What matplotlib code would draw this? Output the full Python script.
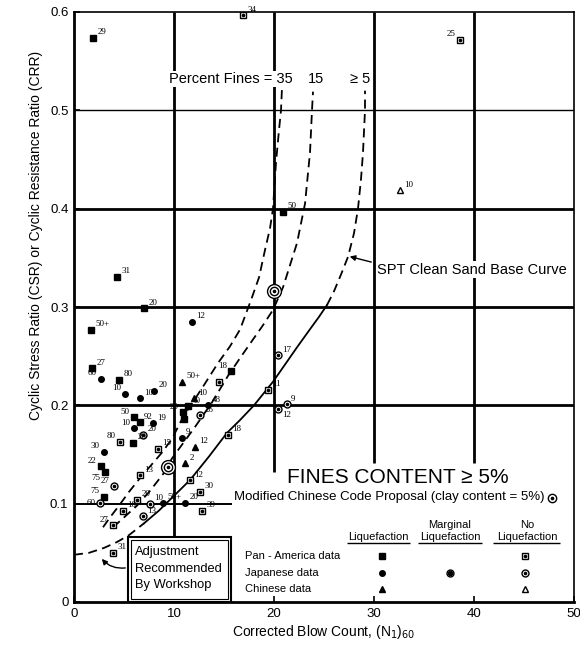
import matplotlib
matplotlib.use("Agg")
import matplotlib.pyplot as plt
from matplotlib.patches import Rectangle

plt.rcParams["font.family"] = ["Liberation Sans", "DejaVu Sans"]

# Curves: percent fines = 35, 15 and clean sand base curve
c35_x = [2.9, 3.6, 4.5, 5.5, 6.6, 7.7, 8.8, 9.8, 10.9, 12.0, 12.9, 14.4, 15.6, 16.6,
         17.7, 18.5, 19.1, 19.6, 19.9, 20.2, 20.5, 20.7, 20.8]
c35_y = [0.076, 0.086, 0.098, 0.112, 0.126, 0.139, 0.152, 0.166, 0.188, 0.205, 0.219,
         0.243, 0.260, 0.277, 0.307, 0.330, 0.358, 0.380, 0.400, 0.447, 0.480, 0.500, 0.523]
c15_x = [3.9, 5.0, 6.3, 7.6, 8.9, 9.8, 10.3, 12.1, 13.8, 15.4, 16.6, 17.9, 18.8, 19.9,
         20.9, 22.3, 23.1, 23.6, 23.8, 23.9]
c15_y = [0.076, 0.086, 0.098, 0.113, 0.130, 0.146, 0.153, 0.178, 0.203, 0.230, 0.248,
         0.267, 0.280, 0.297, 0.320, 0.365, 0.405, 0.457, 0.500, 0.519]
adj_x = [0.0, 1.5, 3.0, 4.3, 5.5, 7.0]
adj_y = [0.048, 0.050, 0.055, 0.061, 0.068, 0.080]
base_x = [7.0, 8.5, 9.9, 11.6, 13.5, 15.3, 16.6, 18.0, 19.9, 21.0, 22.3, 23.5, 24.5, 25.3]
base_y = [0.080, 0.093, 0.107, 0.124, 0.148, 0.172, 0.185, 0.200, 0.224, 0.240, 0.259,
          0.276, 0.290, 0.302]
top_x = [25.3, 26.0, 26.7, 27.4, 28.0, 28.4, 28.7, 28.9, 29.1, 29.1]
top_y = [0.302, 0.316, 0.333, 0.351, 0.375, 0.400, 0.430, 0.457, 0.500, 0.520]

# Case histories: (N1)60, CSR, site label, label side
# sides: r = right/above, R = right/below, l = left/above, L = left/below, c = left/centre
pa_liq_x = [1.9, 20.9, 4.3, 7.0, 1.7, 1.8, 4.5, 15.7, 11.4, 10.9, 11.0, 6.0, 6.6, 5.9, 2.7, 3.1, 3.0]
pa_liq_y = [0.574, 0.397, 0.331, 0.299, 0.277, 0.238, 0.226, 0.235, 0.199, 0.193, 0.186,
            0.188, 0.183, 0.162, 0.138, 0.132, 0.107]
pa_liq_lab = ["29", "50", "31", "20", "50+", "27", "80", "18", "40", "20", "", "50", "92",
              "20", "22", "75", "75"]
pa_liq_side = "rrrrrrrlrlrlrrlLl"

pa_no_x = [16.9, 38.6, 14.5, 19.4, 15.4, 11.6, 12.6, 12.8, 4.6, 8.4, 6.6, 6.3, 4.9, 3.9, 3.9]
pa_no_y = [0.597, 0.572, 0.224, 0.216, 0.170, 0.124, 0.112, 0.093, 0.163, 0.156, 0.129,
           0.104, 0.093, 0.078, 0.050]
pa_no_lab = ["34", "25", "", "11", "18", "12", "30", "39", "80", "15", "13", "20", "10",
             "27", "31"]
pa_no_side = "rlrrrrrrlrrrrlr"

jp_liq_x = [11.8, 2.7, 5.1, 6.6, 8.0, 13.4, 10.8, 6.0, 7.9, 3.0, 8.9, 11.1]
jp_liq_y = [0.285, 0.227, 0.212, 0.207, 0.215, 0.200, 0.167, 0.177, 0.182, 0.153, 0.101, 0.101]
jp_liq_lab = ["12", "60", "10", "10", "20", "48", "9", "10", "19", "30", "50+", "20"]
jp_liq_side = "rllrrrrlrlrr"

jp_no_x = [20.4, 21.3, 20.4, 12.6, 6.9, 4.0, 2.6, 6.9, 7.6]
jp_no_y = [0.251, 0.201, 0.196, 0.190, 0.170, 0.118, 0.101, 0.087, 0.100]
jp_no_lab = ["17", "9", "12", "26", "20", "27", "60", "13", "10"]
jp_no_side = "rrRrrlcrr"

cn_liq_x = [10.8, 12.0, 12.1, 11.1]
cn_liq_y = [0.224, 0.207, 0.158, 0.141]
cn_liq_lab = ["50+", "10", "12", "2"]

cn_no_x = [32.6]
cn_no_y = [0.419]
cn_no_lab = ["10"]

mcc_x = [20.0, 9.4]
mcc_y = [0.316, 0.137]

fig = plt.figure(figsize=(5.8, 6.5), dpi=100)
ax = fig.add_axes([74 / 580, 48 / 650, 500 / 580, 590 / 650])
ax.set_xlim(0, 50)
ax.set_ylim(0, 0.6)
ax.set_xticks([0, 10, 20, 30, 40, 50])
ax.set_yticks([0, 0.1, 0.2, 0.3, 0.4, 0.5, 0.6])
ax.set_yticklabels(["0", "0.1", "0.2", "0.3", "0.4", "0.5", "0.6"])
ax.tick_params(direction="in", length=4, width=1.2, labelsize=9.5, pad=4)
for side in ["left", "bottom"]:
    ax.spines[side].set_linewidth(2)
for side in ["top", "right"]:
    ax.spines[side].set_linewidth(1.2)

# grid lines of the chart
ax.vlines(10, 0.066, 0.6, color="black", lw=2)
ax.vlines(20, 0.132, 0.6, color="black", lw=2)
ax.vlines([30, 40], 0.141, 0.6, color="black", lw=2)
ax.hlines([0.2, 0.3, 0.4], 0, 50, color="black", lw=2)
ax.hlines(0.5, 0, 50, color="black", lw=1)
ax.hlines(0.1, 0, 15.8, color="black", lw=1.4)

# curves
dash = (0, (5, 3))
ax.plot(c35_x, c35_y, color="black", lw=1.3, linestyle=dash)
ax.plot(c15_x, c15_y, color="black", lw=1.3, linestyle=dash)
ax.plot(adj_x, adj_y, color="black", lw=1.3, linestyle=dash)
ax.plot(base_x, base_y, color="black", lw=1.3)
ax.plot(top_x, top_y, color="black", lw=1.3, linestyle=dash)


def dotted(x, y, marker, ms):
    ax.plot(x, y, linestyle="none", marker=marker, ms=ms, mfc="white", mec="black",
            mew=1, zorder=5)
    ax.plot(x, y, linestyle="none", marker="o", ms=1.6, color="black", zorder=6)


placement = {
    "r": ((3, 1), "left", "bottom"),
    "R": ((3, -1), "left", "top"),
    "l": ((-3, 1), "right", "bottom"),
    "L": ((-3, -1), "right", "top"),
    "c": ((-3, 0), "right", "center"),
}


def labels(x, y, labs, sides):
    for xi, yi, lab, sd in zip(x, y, labs, sides):
        if not lab:
            continue
        off, ha, va = placement[sd]
        ax.annotate(lab, (xi, yi), xytext=off, textcoords="offset points",
                    ha=ha, va=va, fontsize=6.5, family="Liberation Serif", zorder=7)


ax.plot(pa_liq_x, pa_liq_y, linestyle="none", marker="s", ms=4, color="black", zorder=5)
dotted(pa_no_x, pa_no_y, "s", 5)
ax.plot(jp_liq_x, jp_liq_y, linestyle="none", marker="o", ms=4, color="black", zorder=5)
dotted(jp_no_x, jp_no_y, "o", 5)
ax.plot(cn_liq_x, cn_liq_y, linestyle="none", marker="^", ms=4.5, color="black", zorder=5)
ax.plot(cn_no_x, cn_no_y, linestyle="none", marker="^", ms=5, mfc="white", mec="black",
        mew=1, zorder=5)
ax.plot(mcc_x, mcc_y, linestyle="none", marker="o", ms=10, mfc="white", mec="black",
        mew=1, zorder=5)
dotted(mcc_x, mcc_y, "o", 6)

labels(pa_liq_x, pa_liq_y, pa_liq_lab, pa_liq_side)
labels(pa_no_x, pa_no_y, pa_no_lab, pa_no_side)
labels(jp_liq_x, jp_liq_y, jp_liq_lab, jp_liq_side)
labels(jp_no_x, jp_no_y, jp_no_lab, jp_no_side)
labels(cn_liq_x, cn_liq_y, cn_liq_lab, "rrrr")
labels(cn_no_x, cn_no_y, cn_no_lab, "r")

# curve annotations
ax.text(21.9, 0.532, "Percent Fines = 35", ha="right", va="center", fontsize=10.5,
        bbox=dict(facecolor="white", edgecolor="none", pad=0.5), zorder=4)
ax.text(24.2, 0.532, "15", ha="center", va="center", fontsize=10.5)
ax.text(28.6, 0.532, "\u2265 5", ha="center", va="center", fontsize=10.5)
ax.text(30.3, 0.338, "SPT Clean Sand Base Curve", ha="left", va="center", fontsize=10.5,
        bbox=dict(facecolor="white", edgecolor="none", pad=1), zorder=4)
ax.annotate("", xy=(27.3, 0.352), xytext=(30.0, 0.345),
            arrowprops=dict(arrowstyle="-|>", color="black", lw=1, mutation_scale=8))

ax.text(32.4, 0.127, "FINES CONTENT \u2265 5%", ha="center", va="center", fontsize=15)
ax.text(47.0, 0.107, "Modified Chinese Code Proposal (clay content = 5%)", ha="right",
        va="center", fontsize=9.5)
dotted([47.8], [0.106], "o", 6)

# workshop adjustment box
ax.add_patch(Rectangle((5.4, 0.0), 10.3, 0.066, facecolor="white", edgecolor="black",
                       lw=1.5, zorder=8))
ax.add_patch(Rectangle((5.7, 0.003), 9.7, 0.060, facecolor="none", edgecolor="black",
                       lw=0.8, zorder=8))
for yy, txt in zip([0.051, 0.034, 0.017], ["Adjustment", "Recommended", "By Workshop"]):
    ax.text(6.1, yy, txt, ha="left", va="center", fontsize=9.3, zorder=9)
ax.annotate("", xy=(2.6, 0.046), xytext=(5.4, 0.035),
            arrowprops=dict(arrowstyle="-|>", color="black", lw=1, mutation_scale=8,
                            connectionstyle="arc3,rad=-0.3"), zorder=9)

# legend table
for xc, top, bottom, x0, x1 in [(30.4, None, "Liquefaction", 27.3, 33.6),
                                (37.6, "Marginal", "Liquefaction", 34.4, 40.8),
                                (45.3, "No", "Liquefaction", 41.9, 48.6)]:
    if top:
        ax.text(xc, 0.078, top, ha="center", va="center", fontsize=8)
    ax.text(xc, 0.066, bottom, ha="center", va="center", fontsize=8)
    ax.hlines(0.060, x0, x1, color="black", lw=1)
rows_y = [0.047, 0.030, 0.013]
for yy, txt in zip(rows_y, ["Pan - America data", "Japanese data", "Chinese data"]):
    ax.text(17.1, yy, txt, ha="left", va="center", fontsize=8)
ax.plot([30.8], [rows_y[0]], marker="s", ms=4, color="black")
ax.plot([30.8], [rows_y[1]], marker="o", ms=4, color="black")
ax.plot([30.8], [rows_y[2]], marker="^", ms=4.5, color="black")
ax.plot([37.6], [rows_y[1]], marker="o", ms=5, mfc="white", mec="black", mew=1)
ax.plot([37.6], [rows_y[1]], marker="o", ms=3, color="black")
dotted([45.1], [rows_y[0]], "s", 5)
dotted([45.1], [rows_y[1]], "o", 5)
ax.plot([45.1], [rows_y[2]], marker="^", ms=5, mfc="white", mec="black", mew=1)

fig.text(324 / 580, 1 - 632 / 650, "Corrected Blow Count, (N$_1$)$_{60}$", ha="center",
         va="center", fontsize=10)
fig.text(36 / 580, 1 - 235 / 650,
         "Cyclic Stress Ratio (CSR) or Cyclic Resistance Ratio (CRR)", rotation=90,
         ha="center", va="center", fontsize=10)

fig.savefig("out.png", dpi=100)
